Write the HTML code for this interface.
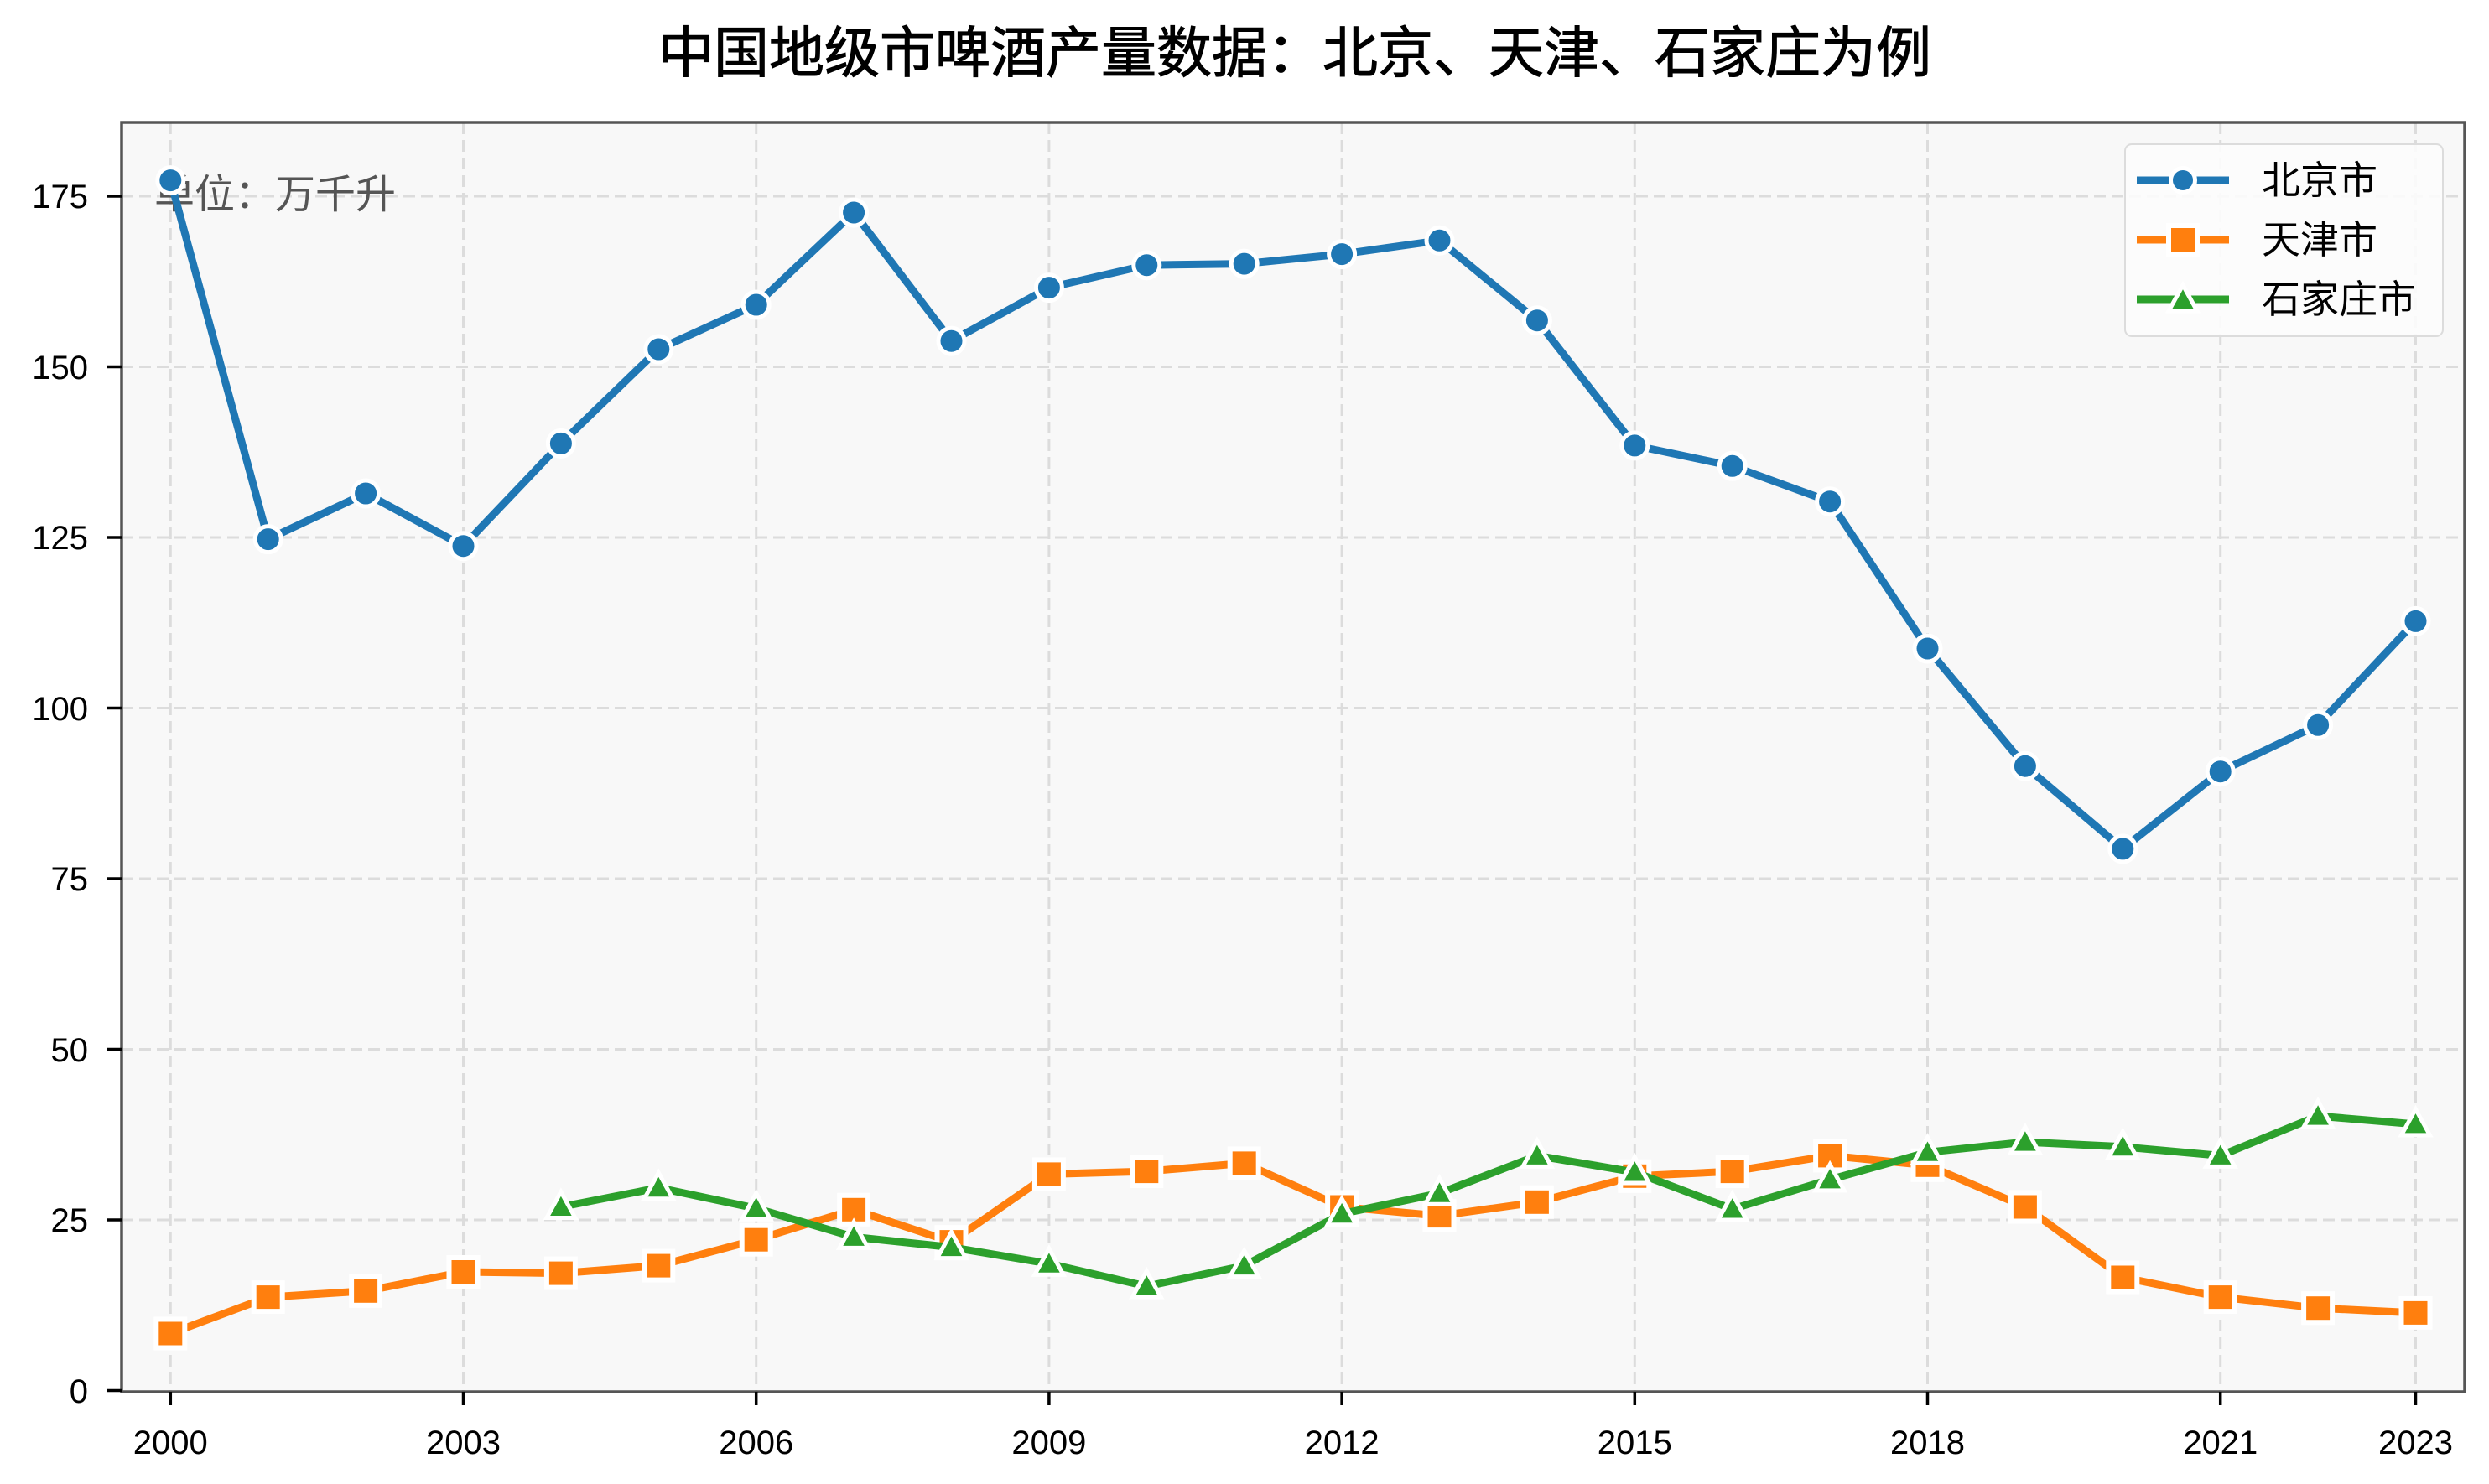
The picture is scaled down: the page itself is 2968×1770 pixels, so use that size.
<!DOCTYPE html>
<html><head><meta charset="utf-8"><style>
html,body{margin:0;padding:0;background:#fff;}
svg{display:block;}
text{font-family:"Liberation Sans","Noto Sans CJK SC",sans-serif;}
</style></head><body>
<svg width="2968" height="1770" viewBox="0 0 2968 1770" xmlns="http://www.w3.org/2000/svg">
<defs>
<marker id="mc" markerUnits="userSpaceOnUse" markerWidth="40" markerHeight="40" refX="20" refY="20" overflow="visible"><circle cx="20" cy="20" r="15.5" fill="#1f77b4" stroke="#fff" stroke-width="5"/></marker>
<marker id="ms" markerUnits="userSpaceOnUse" markerWidth="40" markerHeight="40" refX="20" refY="20" overflow="visible"><rect x="3" y="3" width="34" height="34" fill="#ff7f0e" stroke="#fff" stroke-width="6"/></marker>
<marker id="mt" markerUnits="userSpaceOnUse" markerWidth="44" markerHeight="44" refX="22" refY="22" overflow="visible"><polygon points="22,4 39,35 5,35" fill="#2ca02c" stroke="#fff" stroke-width="5" stroke-linejoin="miter"/></marker>
</defs>
<rect x="145" y="146" width="2794" height="1514" fill="#f8f8f8"/>
<g stroke="#dcdcdc" stroke-width="3" stroke-dasharray="14,7" fill="none">
<line x1="203.3" y1="146" x2="203.3" y2="1660"/>
<line x1="552.5" y1="146" x2="552.5" y2="1660"/>
<line x1="901.7" y1="146" x2="901.7" y2="1660"/>
<line x1="1250.9" y1="146" x2="1250.9" y2="1660"/>
<line x1="1600.1" y1="146" x2="1600.1" y2="1660"/>
<line x1="1949.3" y1="146" x2="1949.3" y2="1660"/>
<line x1="2298.5" y1="146" x2="2298.5" y2="1660"/>
<line x1="2647.7" y1="146" x2="2647.7" y2="1660"/>
<line x1="2880.5" y1="146" x2="2880.5" y2="1660"/>
<line x1="145" y1="1455" x2="2939" y2="1455"/>
<line x1="145" y1="1251.5" x2="2939" y2="1251.5"/>
<line x1="145" y1="1048" x2="2939" y2="1048"/>
<line x1="145" y1="844.5" x2="2939" y2="844.5"/>
<line x1="145" y1="641" x2="2939" y2="641"/>
<line x1="145" y1="437.5" x2="2939" y2="437.5"/>
<line x1="145" y1="234" x2="2939" y2="234"/>
</g>
<text x="184" y="248" font-size="48" fill="#555">单位：万千升</text>
<polyline fill="none" stroke="#1f77b4" stroke-width="9" stroke-linejoin="round" marker-start="url(#mc)" marker-mid="url(#mc)" marker-end="url(#mc)" points="203.3,215.1 319.7,643.1 436.1,588.5 552.5,651.2 668.9,528.9 785.3,416.5 901.7,363.5 1018.1,253.5 1134.5,406.7 1250.9,343.1 1367.3,316.2 1483.7,314.6 1600.1,303.1 1716.5,286.8 1832.9,382.2 1949.3,531.4 2065.7,555.8 2182.1,598.2 2298.5,773.5 2414.9,913.7 2531.3,1012.4 2647.7,920.2 2764.1,864.8 2880.5,740.9"/>
<polyline fill="none" stroke="#ff7f0e" stroke-width="9" stroke-linejoin="round" marker-start="url(#ms)" marker-mid="url(#ms)" marker-end="url(#ms)" points="203.3,1590.5 319.7,1547.1 436.1,1539.8 552.5,1517.0 668.9,1518.6 785.3,1509.6 901.7,1478.7 1018.1,1442.8 1134.5,1481.1 1250.9,1400.4 1367.3,1397.1 1483.7,1387.4 1600.1,1439.5 1716.5,1450.1 1832.9,1433.8 1949.3,1402.8 2065.7,1397.1 2182.1,1378.4 2298.5,1389.8 2414.9,1439.5 2531.3,1523.5 2647.7,1547.1 2764.1,1560.2 2880.5,1565.9"/>
<polyline fill="none" stroke="#2ca02c" stroke-width="9" stroke-linejoin="round" marker-start="url(#mt)" marker-mid="url(#mt)" marker-end="url(#mt)" points="668.9,1439.5 785.3,1416.7 901.7,1441.2 1018.1,1475.4 1134.5,1487.6 1250.9,1507.2 1367.3,1534.1 1483.7,1509.6 1600.1,1447.7 1716.5,1423.2 1832.9,1378.4 1949.3,1398.0 2065.7,1442.0 2182.1,1406.9 2298.5,1374.3 2414.9,1362.1 2531.3,1367.8 2647.7,1378.4 2764.1,1331.1 2880.5,1340.9"/>
<rect x="145" y="146" width="2794" height="1514" fill="none" stroke="#555" stroke-width="3.5"/>
<g stroke="#000" stroke-width="3.5">
<line x1="128" y1="1658.5" x2="145" y2="1658.5"/>
<line x1="128" y1="1455" x2="145" y2="1455"/>
<line x1="128" y1="1251.5" x2="145" y2="1251.5"/>
<line x1="128" y1="1048" x2="145" y2="1048"/>
<line x1="128" y1="844.5" x2="145" y2="844.5"/>
<line x1="128" y1="641" x2="145" y2="641"/>
<line x1="128" y1="437.5" x2="145" y2="437.5"/>
<line x1="128" y1="234" x2="145" y2="234"/>
<line x1="203.3" y1="1660" x2="203.3" y2="1676"/>
<line x1="552.5" y1="1660" x2="552.5" y2="1676"/>
<line x1="901.7" y1="1660" x2="901.7" y2="1676"/>
<line x1="1250.9" y1="1660" x2="1250.9" y2="1676"/>
<line x1="1600.1" y1="1660" x2="1600.1" y2="1676"/>
<line x1="1949.3" y1="1660" x2="1949.3" y2="1676"/>
<line x1="2298.5" y1="1660" x2="2298.5" y2="1676"/>
<line x1="2647.7" y1="1660" x2="2647.7" y2="1676"/>
<line x1="2880.5" y1="1660" x2="2880.5" y2="1676"/>
</g>
<g font-size="40" fill="#000" text-anchor="end">
<text x="105" y="1673">0</text>
<text x="105" y="1469">25</text>
<text x="105" y="1266">50</text>
<text x="105" y="1062">75</text>
<text x="105" y="859">100</text>
<text x="105" y="655">125</text>
<text x="105" y="452">150</text>
<text x="105" y="248">175</text>
</g>
<g font-size="40" fill="#000" text-anchor="middle">
<text x="203.3" y="1734">2000</text>
<text x="552.5" y="1734">2003</text>
<text x="901.7" y="1734">2006</text>
<text x="1250.9" y="1734">2009</text>
<text x="1600.1" y="1734">2012</text>
<text x="1949.3" y="1734">2015</text>
<text x="2298.5" y="1734">2018</text>
<text x="2647.7" y="1734">2021</text>
<text x="2880.5" y="1734">2023</text>
</g>
<text x="1544" y="86" font-size="66" font-weight="normal" text-anchor="middle" fill="#000" stroke="#000" stroke-width="1">中国地级市啤酒产量数据：北京、天津、石家庄为例</text>
<rect x="2534" y="172" width="379" height="229" rx="8" fill="#fcfcfc" fill-opacity="0.9" stroke="#dcdcdc" stroke-width="2"/>
<line x1="2548" y1="215" x2="2658" y2="215" stroke="#1f77b4" stroke-width="9"/>
<circle cx="2603" cy="215" r="14.5" fill="#1f77b4" stroke="#fff" stroke-width="5"/>
<line x1="2548" y1="286" x2="2658" y2="286" stroke="#ff7f0e" stroke-width="9"/>
<rect x="2586" y="269" width="34" height="34" fill="#ff7f0e" stroke="#fff" stroke-width="6"/>
<line x1="2548" y1="357" x2="2658" y2="357" stroke="#2ca02c" stroke-width="9"/>
<polygon points="2603,340 2620,371 2586,371" fill="#2ca02c" stroke="#fff" stroke-width="5"/>
<g font-size="46" fill="#000">
<text x="2697" y="231">北京市</text>
<text x="2697" y="302">天津市</text>
<text x="2697" y="373">石家庄市</text>
</g>
</svg>
</body></html>
